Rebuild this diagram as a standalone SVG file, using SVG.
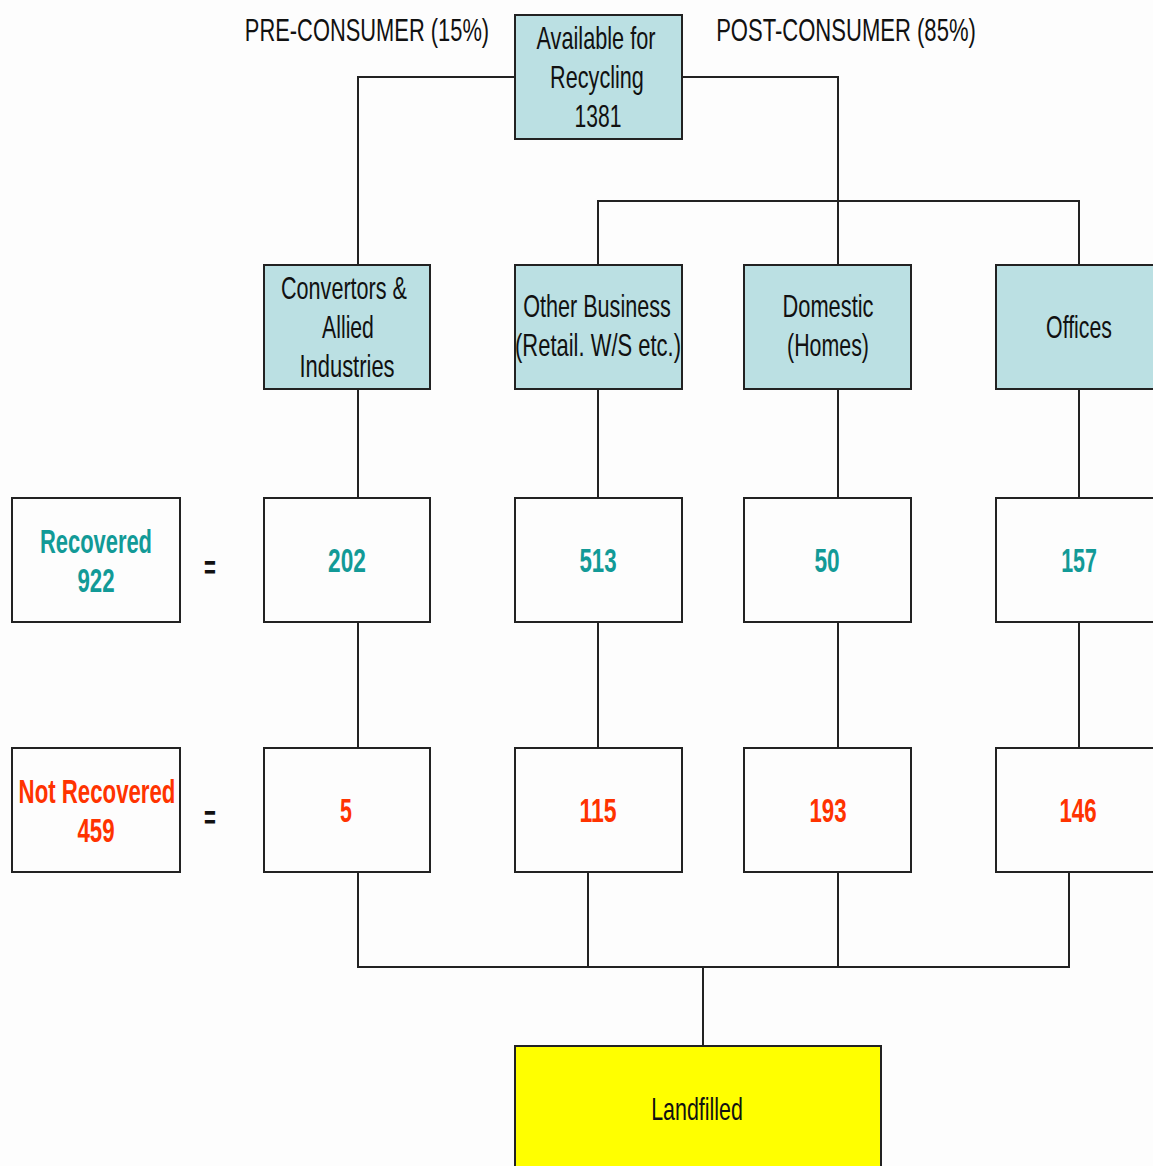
<svg xmlns="http://www.w3.org/2000/svg" width="1153" height="1166" viewBox="0 0 1153 1166">
<style>
text{font-family:"Liberation Sans",Arial,sans-serif;text-anchor:middle}
.lbl{font-size:31px;fill:#111}
.num{font-size:33px;font-weight:bold}
.teal{fill:#129a97}
.red{fill:#ff3300}
.box{stroke:#222;stroke-width:2}
.cat{fill:#bbe0e3}
.val{fill:#fdfdfd}
.conn{stroke:#222;stroke-width:2;fill:none}
</style>
<rect width="1153" height="1166" fill="#fdfdfd"/>
<g id="connectors">
<polyline class="conn" points="515,77 358,77 358,265"/>
<polyline class="conn" points="682,77 838,77 838,265"/>
<polyline class="conn" points="598,265 598,201 1079,201 1079,265"/>
<line class="conn" x1="358" y1="389" x2="358" y2="748"/>
<line class="conn" x1="598" y1="389" x2="598" y2="748"/>
<line class="conn" x1="838" y1="389" x2="838" y2="748"/>
<line class="conn" x1="1079" y1="389" x2="1079" y2="748"/>
<polyline class="conn" points="358,872 358,967 1069,967 1069,872"/>
<line class="conn" x1="588" y1="872" x2="588" y2="967"/>
<line class="conn" x1="838" y1="872" x2="838" y2="967"/>
<line class="conn" x1="703" y1="967" x2="703" y2="1046"/>
</g>
<g id="label-pre"><text class="lbl" transform="translate(367,41) scale(0.7,1)" textLength="349" lengthAdjust="spacingAndGlyphs">PRE-CONSUMER (15%)</text></g>
<g id="label-post"><text class="lbl" transform="translate(846,41) scale(0.7,1)" textLength="371" lengthAdjust="spacingAndGlyphs">POST-CONSUMER (85%)</text></g>
<g id="available">
<rect class="box cat" x="515" y="15" width="167" height="124"/>
<text class="lbl" transform="translate(596,49) scale(0.7,1)" textLength="170" lengthAdjust="spacingAndGlyphs">Available for</text>
<text class="lbl" transform="translate(597,88) scale(0.7,1)" textLength="134" lengthAdjust="spacingAndGlyphs">Recycling</text>
<text class="lbl" transform="translate(598,127) scale(0.7,1)" textLength="67" lengthAdjust="spacingAndGlyphs">1381</text>
</g>
<g id="convertors">
<rect class="box cat" x="264" y="265" width="166" height="124"/>
<text class="lbl" transform="translate(344,299) scale(0.7,1)" textLength="180" lengthAdjust="spacingAndGlyphs">Convertors &amp;</text>
<text class="lbl" transform="translate(348,338) scale(0.7,1)" textLength="74" lengthAdjust="spacingAndGlyphs">Allied</text>
<text class="lbl" transform="translate(347,377) scale(0.7,1)" textLength="136" lengthAdjust="spacingAndGlyphs">Industries</text>
</g>
<g id="other-business">
<rect class="box cat" x="515" y="265" width="167" height="124"/>
<text class="lbl" transform="translate(597,317) scale(0.7,1)" textLength="211" lengthAdjust="spacingAndGlyphs">Other Business</text>
<text class="lbl" transform="translate(598,356) scale(0.7,1)" textLength="237" lengthAdjust="spacingAndGlyphs">(Retail. W/S etc.)</text>
</g>
<g id="domestic">
<rect class="box cat" x="744" y="265" width="167" height="124"/>
<text class="lbl" transform="translate(828,317) scale(0.7,1)" textLength="130" lengthAdjust="spacingAndGlyphs">Domestic</text>
<text class="lbl" transform="translate(828,356) scale(0.7,1)" textLength="117" lengthAdjust="spacingAndGlyphs">(Homes)</text>
</g>
<g id="offices">
<rect class="box cat" x="996" y="265" width="167" height="124"/>
<text class="lbl" transform="translate(1079,338) scale(0.7,1)" textLength="94" lengthAdjust="spacingAndGlyphs">Offices</text>
</g>
<g id="recovered">
<rect class="box val" x="12" y="498" width="168" height="124"/>
<text class="num teal" transform="translate(96,553) scale(0.7,1)" textLength="160" lengthAdjust="spacingAndGlyphs">Recovered</text>
<text class="num teal" transform="translate(96,592) scale(0.7,1)" textLength="53" lengthAdjust="spacingAndGlyphs">922</text>
</g>
<g id="eq1"><text class="num" fill="#111" transform="translate(210,579) scale(0.7,1)" textLength="17" lengthAdjust="spacingAndGlyphs">=</text></g>
<g id="r-conv">
<rect class="box val" x="264" y="498" width="166" height="124"/>
<text class="num teal" transform="translate(347,572) scale(0.7,1)" textLength="54" lengthAdjust="spacingAndGlyphs">202</text>
</g>
<g id="r-other">
<rect class="box val" x="515" y="498" width="167" height="124"/>
<text class="num teal" transform="translate(598,572) scale(0.7,1)" textLength="53" lengthAdjust="spacingAndGlyphs">513</text>
</g>
<g id="r-dom">
<rect class="box val" x="744" y="498" width="167" height="124"/>
<text class="num teal" transform="translate(827,572) scale(0.7,1)" textLength="36" lengthAdjust="spacingAndGlyphs">50</text>
</g>
<g id="r-off">
<rect class="box val" x="996" y="498" width="167" height="124"/>
<text class="num teal" transform="translate(1079,572) scale(0.7,1)" textLength="51" lengthAdjust="spacingAndGlyphs">157</text>
</g>
<g id="not-recovered">
<rect class="box val" x="12" y="748" width="168" height="124"/>
<text class="num red" transform="translate(97,803) scale(0.7,1)" textLength="224" lengthAdjust="spacingAndGlyphs">Not Recovered</text>
<text class="num red" transform="translate(96,842) scale(0.7,1)" textLength="53" lengthAdjust="spacingAndGlyphs">459</text>
</g>
<g id="eq2"><text class="num" fill="#111" transform="translate(210,829) scale(0.7,1)" textLength="17" lengthAdjust="spacingAndGlyphs">=</text></g>
<g id="n-conv">
<rect class="box val" x="264" y="748" width="166" height="124"/>
<text class="num red" transform="translate(346,822) scale(0.7,1)" textLength="17" lengthAdjust="spacingAndGlyphs">5</text>
</g>
<g id="n-other">
<rect class="box val" x="515" y="748" width="167" height="124"/>
<text class="num red" transform="translate(598,822) scale(0.7,1)" textLength="53" lengthAdjust="spacingAndGlyphs">115</text>
</g>
<g id="n-dom">
<rect class="box val" x="744" y="748" width="167" height="124"/>
<text class="num red" transform="translate(828,822) scale(0.7,1)" textLength="53" lengthAdjust="spacingAndGlyphs">193</text>
</g>
<g id="n-off">
<rect class="box val" x="996" y="748" width="167" height="124"/>
<text class="num red" transform="translate(1078,822) scale(0.7,1)" textLength="53" lengthAdjust="spacingAndGlyphs">146</text>
</g>
<g id="landfilled">
<rect class="box" x="515" y="1046" width="366" height="130" fill="#ffff00"/>
<text class="lbl" transform="translate(697,1120) scale(0.7,1)" textLength="131" lengthAdjust="spacingAndGlyphs">Landfilled</text>
</g>
</svg>
